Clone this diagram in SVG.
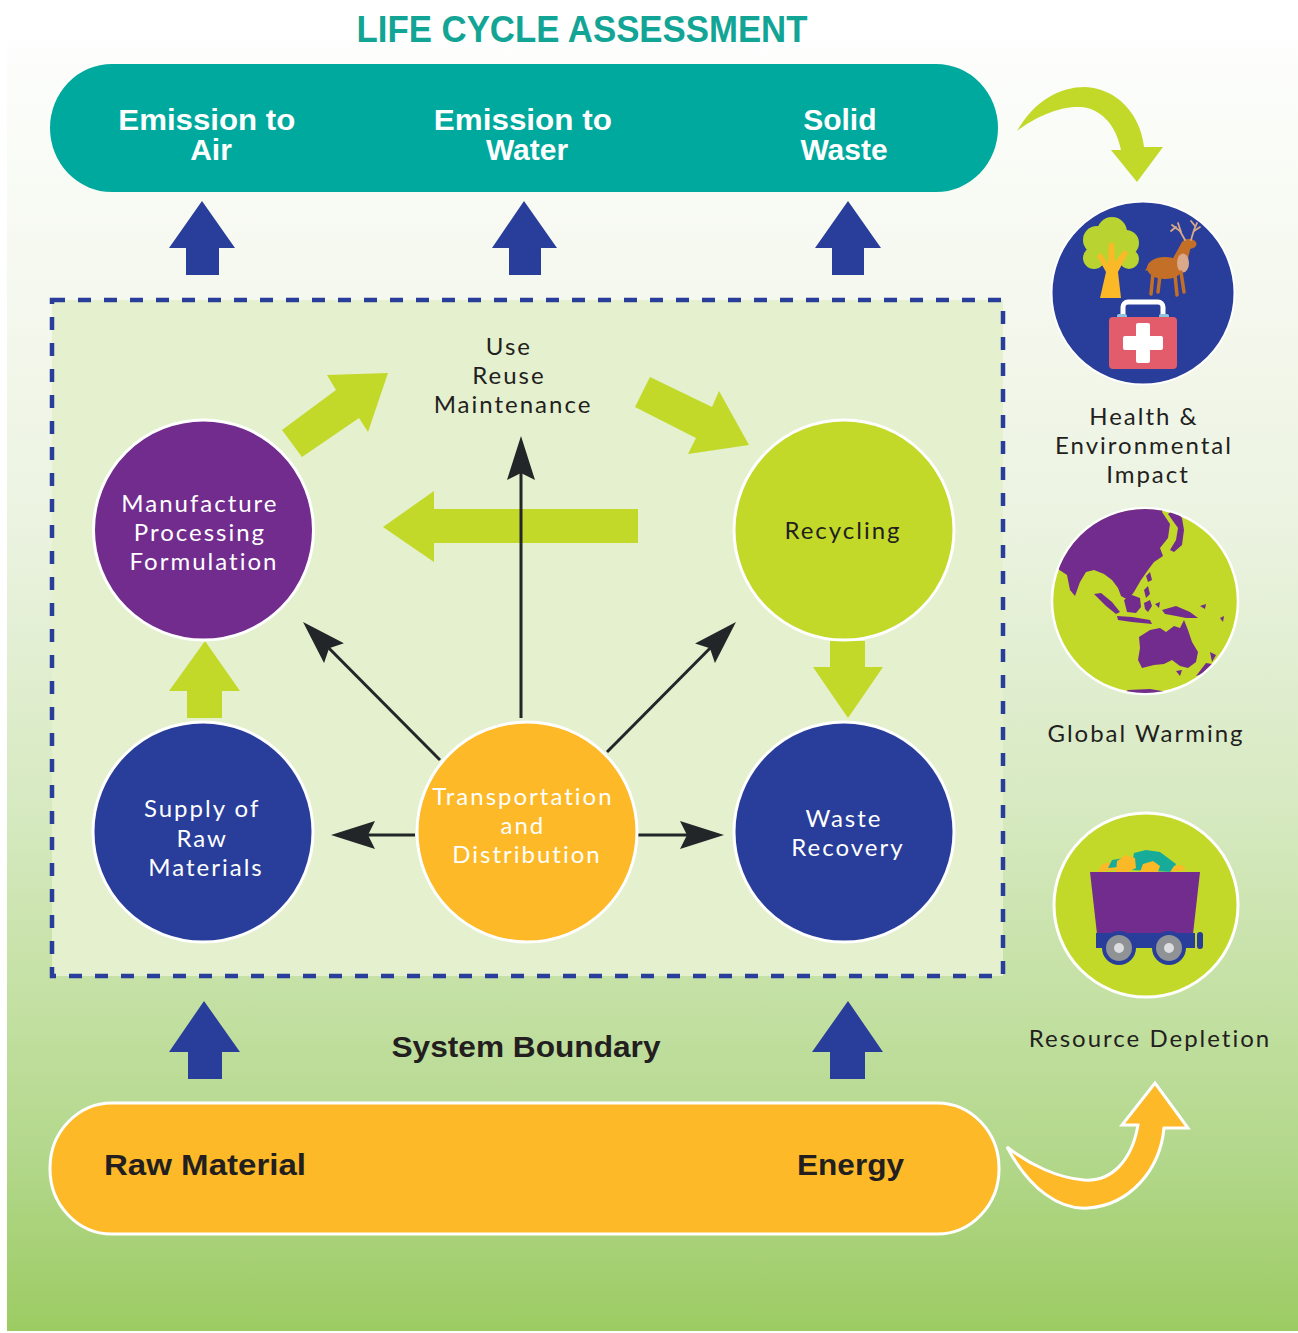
<svg xmlns="http://www.w3.org/2000/svg" width="1298" height="1333" viewBox="0 0 1298 1333">
  <defs>
    <linearGradient id="bg" x1="0" y1="0" x2="0" y2="1">
      <stop offset="0" stop-color="#fdfefd"/>
      <stop offset="0.2" stop-color="#f5f8ee"/>
      <stop offset="0.38" stop-color="#ebf3e0"/>
      <stop offset="0.6" stop-color="#d6e9c0"/>
      <stop offset="0.75" stop-color="#c3e0a2"/>
      <stop offset="0.87" stop-color="#b2d78a"/>
      <stop offset="1" stop-color="#9ccb62"/>
    </linearGradient>
    <clipPath id="globeClip">
      <circle cx="1145" cy="601" r="92"/>
    </clipPath>
    <marker id="blk" markerUnits="userSpaceOnUse" viewBox="0 0 44 28" refX="24" refY="14" markerWidth="44" markerHeight="28" orient="auto">
      <path d="M0,0 L44,14 L0,28 L7,14 Z" fill="#232628"/>
    </marker>
    <style>
      .node { stroke: #ffffff; stroke-width: 3; }
      .purple { fill: #722c8e; }
      .lime { fill: #c2d92a; }
      .blue { fill: #283e9a; }
      .orange { fill: #fdb927; }
      .lbl { font-family: Lato, "Open Sans", sans-serif; font-size: 24px; text-anchor: middle; letter-spacing: 2px; }
      .w { fill: #ffffff; }
      .d { fill: #231f20; }
      .bold { font-family: "Liberation Sans", Arial, sans-serif; font-weight: bold; }
      .thin { stroke: #232628; stroke-width: 3; fill: none; }
      .fat { fill: #c2d92a; }
      .up { fill: #283e9a; }
    </style>
  </defs>

  <!-- page background -->
  <rect x="0" y="0" width="1298" height="1333" fill="#ffffff"/>
  <rect x="7" y="40" width="1291" height="1291" fill="url(#bg)"/>

  <!-- title -->
  <text x="582" y="42" class="bold" font-size="37" fill="#12a595" text-anchor="middle" textLength="451" lengthAdjust="spacingAndGlyphs">LIFE CYCLE ASSESSMENT</text>

  <!-- outputs bar -->
  <g id="outputs">
    <rect x="50" y="64" width="948" height="128" rx="62" ry="64" fill="#00a99d"/>
    <text class="bold" font-size="30" fill="#ffffff" text-anchor="middle">
      <tspan x="211" y="130" textLength="177" lengthAdjust="spacingAndGlyphs">Emission to</tspan>
      <tspan x="211" y="160">Air</tspan>
    </text>
    <text class="bold" font-size="30" fill="#ffffff" text-anchor="middle">
      <tspan x="527" y="130" textLength="178" lengthAdjust="spacingAndGlyphs">Emission to</tspan>
      <tspan x="527" y="160">Water</tspan>
    </text>
    <text class="bold" font-size="30" fill="#ffffff" text-anchor="middle">
      <tspan x="844" y="130">Solid</tspan>
      <tspan x="844" y="160">Waste</tspan>
    </text>
  </g>

  <!-- inputs bar -->
  <g id="inputs">
    <rect x="50" y="1103" width="949" height="131" rx="62" ry="65" fill="#fdb927" stroke="#ffffff" stroke-width="3"/>
    <text x="104" y="1175" class="bold" font-size="30" fill="#231f20" textLength="202" lengthAdjust="spacingAndGlyphs">Raw Material</text>
    <text x="797" y="1175" class="bold" font-size="30" fill="#231f20" textLength="107" lengthAdjust="spacingAndGlyphs">Energy</text>
  </g>

  <!-- system boundary -->
  <g id="boundary">
    <rect x="52" y="300" width="951" height="676" fill="#e4f0ce" stroke="#283e9a" stroke-width="4.5" stroke-dasharray="13 13"/>
    <text x="526" y="1057" class="bold" font-size="30" fill="#231f20" text-anchor="middle" textLength="269" lengthAdjust="spacingAndGlyphs">System Boundary</text>
  </g>

  <!-- connectors -->
  <g id="connectors">
    <!-- emissions leaving the boundary -->
    <path class="up" d="M202,201 L235,248 L219,248 L219,275 L186,275 L186,248 L169,248 Z"/>
    <path class="up" d="M524,201 L557,248 L541,248 L541,275 L509,275 L509,248 L492,248 Z"/>
    <path class="up" d="M848,201 L881,248 L864,248 L864,275 L832,275 L832,248 L815,248 Z"/>
    <!-- inputs entering the boundary -->
    <path class="up" d="M204,1001 L240,1052 L222,1052 L222,1079 L188,1079 L188,1052 L169,1052 Z"/>
    <path class="up" d="M848,1001 L883,1052 L865,1052 L865,1079 L830,1079 L830,1052 L812,1052 Z"/>

    <!-- life cycle flow -->
    <path class="fat" d="M282,430 L336,390 L327,375 L388,373 L368,432 L359,418 L302,457 Z"/>
    <path class="fat" d="M650,377 L712,407 L719,391 L749,445 L688,454 L696,438 L635,407 Z"/>
    <path class="fat" d="M638,509 L434,509 L434,491 L383,527 L434,562 L434,543 L638,543 Z"/>
    <path class="fat" d="M187,718 L187,691 L169,691 L205,641 L240,691 L222,691 L222,718 Z"/>
    <path class="fat" d="M830,641 L865,641 L865,667 L883,667 L848,718 L813,667 L830,667 Z"/>

    <!-- distribution links -->
    <line class="thin" x1="521" y1="718" x2="521" y2="456" marker-end="url(#blk)"/>
    <line class="thin" x1="440" y1="760" x2="317.1" y2="636.2" marker-end="url(#blk)"/>
    <line class="thin" x1="607" y1="752" x2="721.9" y2="636.2" marker-end="url(#blk)"/>
    <line class="thin" x1="415" y1="835" x2="351" y2="835" marker-end="url(#blk)"/>
    <line class="thin" x1="638" y1="835" x2="704" y2="835" marker-end="url(#blk)"/>

    <!-- impact arrows -->
    <path fill="#c2d92a" d="M1017,131 C1035,100 1060,87 1085,87 C1115,88 1140,112 1144,147 L1163,147 L1137,182 L1111,150 L1121,150 C1116,124 1100,108 1080,107 C1060,106 1035,117 1017,131 Z"/>
    <path fill="#fdb927" stroke="#ffffff" stroke-width="3" d="M1007,1147 C1030,1190 1060,1210 1088,1208 C1130,1205 1160,1170 1164,1128 L1188,1128 L1155,1083 L1122,1125 L1138,1125 C1132,1160 1112,1182 1084,1180 C1058,1178 1030,1165 1007,1147 Z"/>
  </g>

  <!-- process nodes -->
  <g id="use">
    <text class="lbl d">
      <tspan x="513" y="355">Use</tspan>
      <tspan x="513" y="384">Reuse</tspan>
      <tspan x="513" y="413">Maintenance</tspan>
    </text>
  </g>
  <g id="manufacture">
    <circle class="node purple" cx="203.5" cy="530" r="110"/>
    <text class="lbl w">
      <tspan x="204" y="512">Manufacture</tspan>
      <tspan x="204" y="541">Processing</tspan>
      <tspan x="204" y="570">Formulation</tspan>
    </text>
  </g>
  <g id="recycling">
    <circle class="node lime" cx="844" cy="530" r="110"/>
    <text class="lbl d" x="843" y="539">Recycling</text>
  </g>
  <g id="supply">
    <circle class="node blue" cx="203" cy="832" r="110"/>
    <text class="lbl w">
      <tspan x="206" y="817">Supply of</tspan>
      <tspan x="206" y="847">Raw</tspan>
      <tspan x="206" y="876">Materials</tspan>
    </text>
  </g>
  <g id="transport">
    <circle class="node orange" cx="527" cy="832" r="110"/>
    <text class="lbl w">
      <tspan x="527" y="805">Transportation</tspan>
      <tspan x="527" y="834">and</tspan>
      <tspan x="527" y="863">Distribution</tspan>
    </text>
  </g>
  <g id="waste-recovery">
    <circle class="node blue" cx="844" cy="832" r="110"/>
    <text class="lbl w">
      <tspan x="848" y="827">Waste</tspan>
      <tspan x="848" y="856">Recovery</tspan>
    </text>
  </g>

  <!-- impact: health and environment -->
  <g id="health">
    <circle cx="1143" cy="293" r="91.5" fill="#283e9a" stroke="#ffffff" stroke-width="2"/>
    <!-- tree -->
    <g fill="#b9d431">
      <circle cx="1097" cy="240" r="14"/>
      <circle cx="1112" cy="232" r="15"/>
      <circle cx="1126" cy="243" r="13"/>
      <circle cx="1094" cy="258" r="11"/>
      <circle cx="1129" cy="259" r="10"/>
      <circle cx="1111" cy="254" r="14"/>
    </g>
    <path fill="#fbb827" d="M1100,298 L1106,272 L1097,256 L1101,253 L1108,264 L1109,243 L1114,243 L1115,262 L1124,250 L1128,253 L1118,272 L1121,298 Z"/>
    <!-- deer -->
    <g fill="#c46f27">
      <ellipse cx="1165" cy="268" rx="18" ry="11"/>
      <path d="M1172,260 L1182,242 L1191,246 L1185,271 Z"/>
      <ellipse cx="1189" cy="244" rx="7.5" ry="5"/>
      <path d="M1149,264 L1145,271 L1151,269 Z"/>
    </g>
    <ellipse cx="1183" cy="263" rx="6" ry="9.5" fill="#d9a98a"/>
    <g stroke="#c46f27" stroke-width="3.5" stroke-linecap="round">
      <line x1="1153" y1="273" x2="1151" y2="294"/>
      <line x1="1160" y1="275" x2="1158" y2="292"/>
      <line x1="1175" y1="275" x2="1177" y2="295"/>
      <line x1="1181" y1="272" x2="1184" y2="292"/>
    </g>
    <g stroke="#d9a98a" stroke-width="1.8" fill="none" stroke-linecap="round">
      <polyline points="1185,240 1180,231 1172,225"/>
      <polyline points="1181,232 1178,223"/>
      <polyline points="1176,227 1171,231"/>
      <polyline points="1191,240 1194,230 1197,223"/>
      <polyline points="1194,231 1200,227"/>
      <polyline points="1195,226 1191,221"/>
    </g>
    <!-- first aid kit -->
    <rect x="1123" y="302" width="40" height="20" rx="5" fill="none" stroke="#ffffff" stroke-width="5"/>
    <rect x="1117" y="314" width="10" height="5" rx="2" fill="#8fc4de"/>
    <rect x="1159" y="314" width="10" height="5" rx="2" fill="#8fc4de"/>
    <rect x="1109" y="317" width="68" height="52" rx="4" fill="#e35c6b"/>
    <rect x="1123" y="336" width="40" height="14" rx="2" fill="#ffffff"/>
    <rect x="1136" y="323" width="14" height="40" rx="2" fill="#ffffff"/>
    <text class="lbl d">
      <tspan x="1148" y="425">Health &amp;</tspan>
      <tspan x="1148" y="454">Environmental</tspan>
      <tspan x="1148" y="483">Impact</tspan>
    </text>
  </g>

  <!-- impact: global warming -->
  <g id="warming">
    <circle cx="1145" cy="601" r="93" fill="#c2d92a" stroke="#ffffff" stroke-width="2.5"/>
    <g clip-path="url(#globeClip)" fill="#722c8e">
      <path d="M1050,575 L1050,500 L1166,500 L1162,512 L1170,524 L1168,538 L1160,548 L1163,556 L1154,562 L1148,570 L1141,580 L1134,592 L1128,600 L1121,596 L1118,588 L1112,580 L1104,574 L1094,570 L1086,572 L1080,582 L1075,596 L1070,590 L1067,575 L1058,569 Z"/>
      <path d="M1094,594 L1101,593 L1112,602 L1120,612 L1116,614 L1106,606 Z"/>
      <path d="M1117,616 L1132,617 L1150,620 L1152,624 L1132,622 L1118,620 Z"/>
      <path d="M1124,600 L1132,595 L1140,598 L1141,607 L1136,613 L1127,612 Z"/>
      <path d="M1144,590 L1148,586 L1150,594 L1146,598 Z"/>
      <path d="M1146,576 L1150,572 L1152,580 L1148,582 Z"/>
      <path d="M1144,603 L1150,600 L1152,606 L1148,612 L1145,609 Z"/>
      <path d="M1155,604 L1160,602 L1159,608 Z"/>
      <path d="M1162,610 L1176,606 L1190,612 L1198,618 L1186,618 L1176,616 L1165,614 Z"/>
      <path d="M1200,606 L1206,604 L1205,609 Z"/>
      <path d="M1139,637 L1150,630 L1160,628 L1166,632 L1174,626 L1180,628 L1184,620 L1188,630 L1192,642 L1198,652 L1196,662 L1188,668 L1180,666 L1172,660 L1164,664 L1154,665 L1142,668 L1138,660 L1140,648 Z"/>
      <path d="M1176,671 L1182,670 L1180,676 Z"/>
      <path d="M1210,652 L1216,655 L1212,662 Z"/>
      <path d="M1206,663 L1212,664 L1202,674 L1196,676 Z"/>
      <path d="M1220,618 L1224,616 L1223,622 Z"/>
      <path d="M1168,514 L1174,509 L1182,518 L1184,530 L1182,545 L1174,552 L1170,550 L1176,540 L1178,528 Z"/>
      <path d="M1120,696 L1128,690 L1150,689 L1168,692 L1180,700 L1120,700 Z"/>
    </g>
    <text class="lbl d" x="1146" y="742">Global Warming</text>
  </g>

  <!-- impact: resource depletion -->
  <g id="depletion">
    <circle cx="1146" cy="905" r="92" fill="#c2d92a" stroke="#ffffff" stroke-width="3"/>
    <path fill="#fbb827" d="M1098,872 L1102,864 L1112,862 L1116,870 Z"/>
    <path fill="#17ab9a" d="M1108,868 L1112,860 L1124,858 L1128,866 Z"/>
    <path fill="#17ab9a" d="M1131,870 L1134,853 L1146,850 L1160,852 L1168,858 L1176,864 L1172,872 Z"/>
    <path fill="#fbb827" d="M1116,872 L1117,861 L1126,855 L1135,858 L1136,868 L1128,872 Z"/>
    <path fill="#fbb827" d="M1140,872 L1143,864 L1153,861 L1160,866 L1158,872 Z"/>
    <path fill="#fbb827" d="M1170,872 L1174,866 L1182,865 L1186,870 Z"/>
    <path fill="#722c8e" d="M1090,872 L1200,872 L1193,934 L1097,934 Z"/>
    <rect x="1096" y="933" width="99" height="15" fill="#283e9a"/>
    <rect x="1197" y="932" width="6" height="17" rx="3" fill="#283e9a"/>
    <g>
      <circle cx="1119" cy="948" r="17" fill="#283e9a"/>
      <circle cx="1119" cy="948" r="13" fill="#8f9395"/>
      <circle cx="1119" cy="948" r="5" fill="#dcdde0"/>
      <circle cx="1169" cy="948" r="17" fill="#283e9a"/>
      <circle cx="1169" cy="948" r="13" fill="#8f9395"/>
      <circle cx="1169" cy="948" r="5" fill="#dcdde0"/>
    </g>
    <text class="lbl d" x="1150" y="1047">Resource Depletion</text>
  </g>
</svg>
